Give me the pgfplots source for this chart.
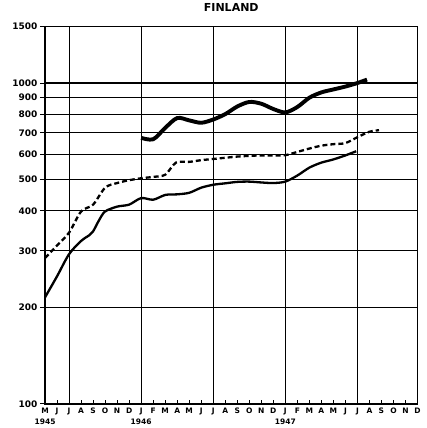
\documentclass[border=0pt]{standalone}
\usepackage{fontspec}
\setmainfont{DejaVu Sans}
\usepackage{pgfplots}
\pgfplotsset{compat=1.18}
\begin{document}
\begin{tikzpicture}
\begin{axis}[
  scale only axis, width=372pt, height=377pt,
  ymode=log, ymin=100, ymax=1500, xmin=0, xmax=31,
  ytick={100,200,300,400,500,600,700,800,900,1000,1500},
  yticklabels={100,200,300,400,500,600,700,800,900,1000,1500},
  yminorticks=false,
  ymajorgrids,
  xtick={0,...,31},
  xticklabels={{M\\1945},J,J,A,S,O,N,D,{J\\1946},F,M,A,M,J,J,A,S,O,N,D,{J\\1947},F,M,A,M,J,J,A,S,O,N,D},
  extra x ticks={2,8,14,20,26},
  extra x tick labels={},
  extra x tick style={grid=major, major tick length=0pt},
  tick align=inside, tick pos=left,
  major tick length=4pt,
  ytick style={xshift=-5pt},
  axis line style={line width=1.4pt},
  major grid style={black, line width=1.1pt},
  tick style={black, line width=1pt},
  yticklabel style={font=\fontsize{9}{10}\selectfont\bfseries, xshift=-4pt},
  xticklabel style={font=\fontsize{7.5}{11}\selectfont\bfseries, align=center, anchor=north, inner sep=1pt, yshift=-2.5pt},
  title=FINLAND,
  title style={font=\fontsize{11}{12}\selectfont\bfseries, at={(0.5,1)}, anchor=base, yshift=9.5pt},
]
% thick solid
\addplot[black, line width=3.9pt, smooth, tension=0.5] coordinates {
(8,675) (9,668) (10,725) (11,778) (12,765) (13,752) (14,770) (15,800) (16,845) (17,873) (18,862) (19,830) (20,810) (21,842) (22,900) (23,935) (24,955) (25,975) (26,1000) (26.8,1025)
};
% thin solid
\addplot[black, line width=2.3pt, smooth, tension=0.5] coordinates {
(0,215) (1,250) (2,293) (3,322) (3.7,336) (4,345) (4.5,374) (5,398) (6,412) (7,418) (8,438) (9,433) (10,448) (11,450) (12,455) (13,472) (14,482) (15,487) (16,492) (17,493) (18,490) (19,488) (20,493) (21,515) (22,545) (23,565) (24,578) (25,595) (25.9,613)
};
% dashed
\addplot[black, line width=2.3pt, dash pattern=on 5pt off 3pt, smooth, tension=0.5] coordinates {
(0,285) (1,312) (2,342) (3,398) (4,418) (5,472) (6,488) (7,498) (8,505) (9,510) (10,518) (10.9,565) (12,568) (13,575) (14,580) (15,585) (16,590) (17,593) (18,595) (19,595) (20,596) (21,610) (22,625) (23,638) (24,645) (25,650) (26,678) (27,705) (27.8,713)
};
\end{axis}
\pgfresetboundingbox
\path ([shift={(-45pt,-24pt)}]current axis.south west) rectangle ([shift={(9.5pt,26.5pt)}]current axis.north east);
\end{tikzpicture}
\end{document}
